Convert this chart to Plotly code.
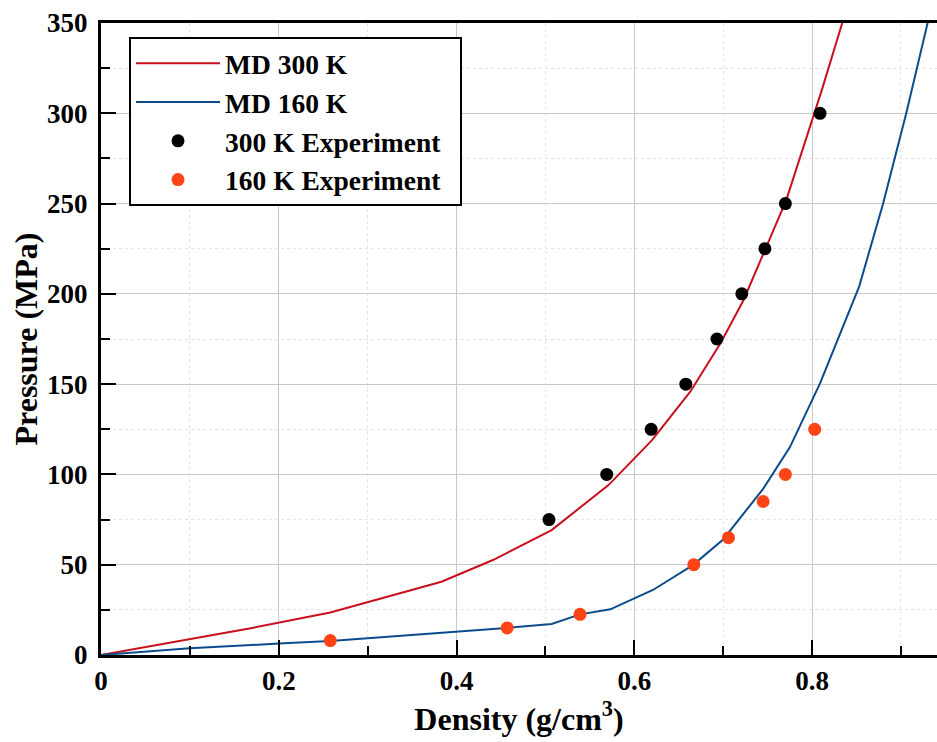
import plotly.graph_objects as go

# MD simulation curves
md300_density = [0.0, 0.17, 0.258, 0.383, 0.441, 0.507, 0.571, 0.620, 0.663, 0.697, 0.723, 0.747, 0.771, 0.811, 0.834]
md300_pressure = [0.0, 15.0, 23.5, 40.6, 52.6, 69.2, 94.1, 119.0, 145.8, 172.6, 196.6, 224.0, 251.9, 312.8, 350.0]

md160_density = [0.0, 0.1, 0.2, 0.258, 0.456, 0.507, 0.539, 0.573, 0.621, 0.666, 0.700, 0.723, 0.745, 0.775, 0.809, 0.853, 0.880, 0.906, 0.931]
md160_pressure = [0.0, 3.7, 6.3, 7.8, 15.0, 17.2, 22.5, 25.3, 36.0, 49.8, 64.0, 78.0, 92.0, 115.0, 150.4, 204.0, 250.0, 300.0, 352.0]

# Experimental data
exp300_density = [0.504, 0.569, 0.619, 0.658, 0.693, 0.721, 0.747, 0.770, 0.809]
exp300_pressure = [75, 100, 125, 150, 175, 200, 225, 250, 300]

exp160_density = [0.258, 0.457, 0.539, 0.667, 0.706, 0.745, 0.770, 0.803]
exp160_pressure = [8, 15, 22.5, 50, 65, 85, 100, 125]

x_ticks = [0, 0.2, 0.4, 0.6, 0.8]
x_tick_labels = ["0", "0.2", "0.4", "0.6", "0.8"]
y_ticks = [0, 50, 100, 150, 200, 250, 300, 350]

series_names = ["MD 300 K", "MD 160 K", "300 K Experiment", "160 K Experiment"]

FONT = "Liberation Serif"
RED = "#c8101e"
BLUE = "#0b4c8c"
ORANGE = "#ff4516"
PAD = "\u00a0\u00a0"

fig = go.Figure()
fig.add_trace(go.Scatter(x=md300_density, y=md300_pressure, mode="lines",
                         line=dict(color=RED, width=2), name=series_names[0] + PAD))
fig.add_trace(go.Scatter(x=md160_density, y=md160_pressure, mode="lines",
                         line=dict(color=BLUE, width=2), name=series_names[1] + PAD))
fig.add_trace(go.Scatter(x=exp300_density, y=exp300_pressure, mode="markers",
                         marker=dict(color="black", size=13), name=series_names[2] + PAD))
fig.add_trace(go.Scatter(x=exp160_density, y=exp160_pressure, mode="markers",
                         marker=dict(color=ORANGE, size=13), name=series_names[3] + PAD))

axis_common = dict(
    showline=True, linecolor="black", linewidth=3,
    ticks="inside", ticklen=15, tickwidth=2, tickcolor="black",
    showgrid=True, gridcolor="#c8c8c8", gridwidth=1.2,
    zeroline=False,
    tickfont=dict(family=FONT, size=27, color="black", weight="bold"),
)

fig.update_xaxes(
    **axis_common,
    range=[0, 0.9406], tickvals=x_ticks, ticktext=x_tick_labels,
    mirror=True,
    minor=dict(dtick=0.1, tick0=0, ticks="inside", ticklen=9, tickwidth=2, tickcolor="black",
               showgrid=True, gridcolor="#e4e4e4", griddash="dot", gridwidth=1),
    title=dict(text="Density (g/cm<sup>3</sup>)", font=dict(family=FONT, size=32, color="black", weight="bold"),
               standoff=10),
)
fig.update_yaxes(
    **axis_common,
    range=[0, 350], tickvals=y_ticks,
    ticklabelstandoff=5,
    minor=dict(dtick=25, tick0=0, ticks="inside", ticklen=9, tickwidth=2, tickcolor="black",
               showgrid=True, gridcolor="#e4e4e4", griddash="dot", gridwidth=1),
    title=dict(text="Pressure (MPa)", font=dict(family=FONT, size=32, color="black", weight="bold"),
               standoff=0),
)

fig.update_layout(
    width=937, height=742,
    margin=dict(l=101, r=0, t=23, b=87),
    plot_bgcolor="white", paper_bgcolor="white",
    font=dict(family=FONT, color="black"),
    legend=dict(
        x=0.0335, y=0.978, xanchor="left", yanchor="top",
        bgcolor="white", bordercolor="black", borderwidth=2,
        font=dict(family=FONT, size=27.5, color="black", weight="bold"),
        itemwidth=84,
    ),
)

fig.write_html("out.html")
